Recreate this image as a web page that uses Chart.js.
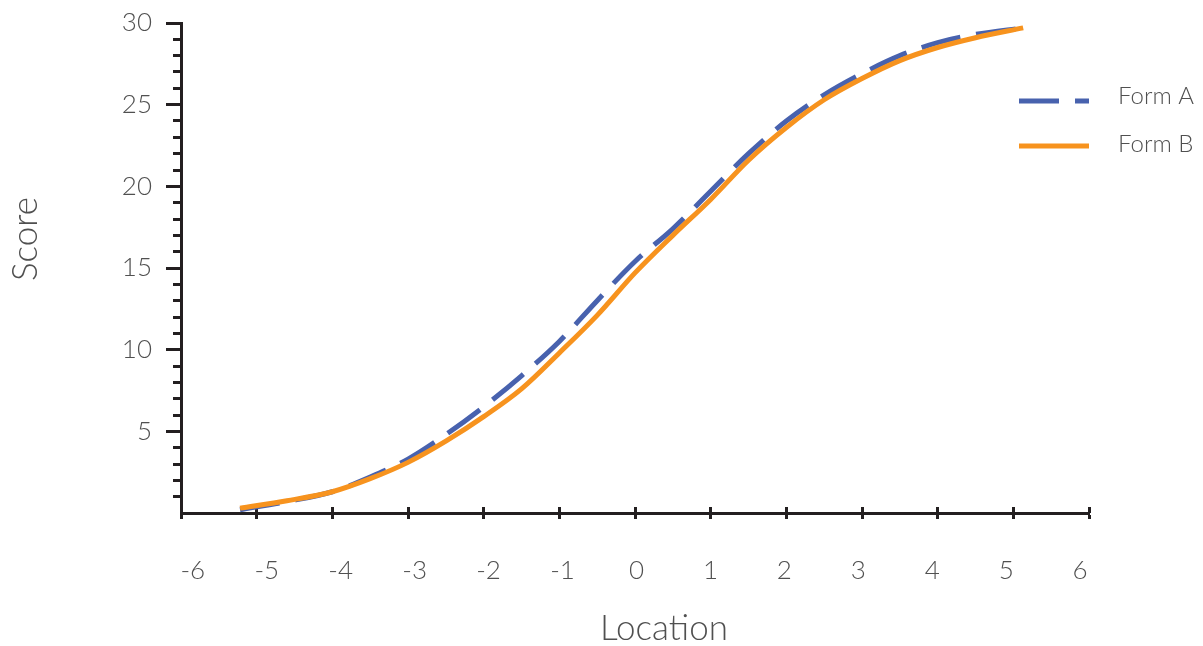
<!DOCTYPE html>
<html>
<head>
<meta charset="utf-8">
<script src="https://cdn.jsdelivr.net/npm/chart.js@4.4.1/dist/chart.umd.min.js"></script>
<style>
  html, body { margin: 0; padding: 0; background: #fff; }
  #wrap { width: 1203px; height: 646px; position: relative; }
</style>
</head>
<body>
<div id="wrap"><canvas id="score-chart"></canvas></div>
<script>
"use strict";

// values (location -> expected score)
const locations = [-5.22, -4.6, -4, -3.5, -3, -2.5, -2, -1.5, -1, -0.5, 0, 0.5, 1, 1.5, 2, 2.5, 3, 3.5, 4, 4.5, 5.13];
const formA = [0.2, 0.7, 1.3, 2.2, 3.3, 4.8, 6.5, 8.4, 10.5, 13.0, 15.4, 17.4, 19.7, 22.0, 24.0, 25.6, 26.9, 28.0, 28.8, 29.3, 29.7];
const formB = [0.3, 0.75, 1.3, 2.1, 3.1, 4.4, 5.9, 7.6, 9.8, 12.1, 14.7, 17.0, 19.2, 21.6, 23.6, 25.3, 26.6, 27.7, 28.5, 29.1, 29.7];

const xTickLabels = [-6, -5, -4, -3, -2, -1, 0, 1, 2, 3, 4, 5, 6];
const yTickLabels = [5, 10, 15, 20, 25, 30];
const yMinorTicks = [1, 2, 3, 4, 6, 7, 8, 9, 11, 12, 13, 14, 16, 17, 18, 19, 21, 22, 23, 24, 26, 27, 28, 29];

const xTitle = "Location";
const yTitle = "Score";

const FONT = "Lato, 'Open Sans', sans-serif";
const TEXT = "#505050";
const AXIS = "#231f20";

function toPoints(xs, ys) {
  return xs.map((x, i) => ({ x: x, y: ys[i] }));
}

// legend sits to the right, partly outside the plot area
const sideLegend = {
  id: "sideLegend",
  afterDraw(chart) {
    const ctx = chart.ctx;
    chart.data.datasets.forEach((ds, i) => {
      const y = 101 + i * 45;
      ctx.save();
      ctx.strokeStyle = ds.borderColor;
      ctx.lineWidth = ds.borderWidth;
      ctx.setLineDash(ds.borderDash || []);
      ctx.beginPath();
      ctx.moveTo(1019, y);
      ctx.lineTo(1089, y);
      ctx.stroke();
      ctx.setLineDash([]);
      ctx.fillStyle = TEXT;
      ctx.font = "300 24px " + FONT;
      ctx.textBaseline = "alphabetic";
      ctx.fillText(ds.label, 1118, y + 3 + i * 3);
      ctx.restore();
    });
  }
};

// axis titles are not centred on the plot in the original, so place them here
const axisTitles = {
  id: "axisTitles",
  afterDraw(chart) {
    const ctx = chart.ctx;
    ctx.save();
    ctx.fillStyle = TEXT;
    ctx.font = "300 35px " + FONT;
    ctx.textAlign = "center";
    ctx.textBaseline = "middle";
    ctx.fillText(xTitle, 664, 629);
    ctx.translate(26, 239);
    ctx.rotate(-Math.PI / 2);
    ctx.fillText(yTitle, 0, 0);
    ctx.restore();
  }
};

const ctx = document.getElementById("score-chart").getContext("2d");
const scoreChart = new Chart(ctx, {
  type: "scatter",
  data: {
    datasets: [
      {
        label: "Form A",
        data: toPoints(locations, formA),
        showLine: true,
        borderColor: "#4862ae",
        borderWidth: 5,
        borderDash: [40, 16],
        borderCapStyle: "butt",
        pointRadius: 0,
        cubicInterpolationMode: "monotone",
        order: 1,
      },
      {
        label: "Form B",
        data: toPoints(locations, formB),
        showLine: true,
        borderColor: "#f7931e",
        borderWidth: 5,
        pointRadius: 0,
        cubicInterpolationMode: "monotone",
        order: 0,
      },
    ],
  },
  options: {
    responsive: true,
    maintainAspectRatio: false,
    animation: false,
    layout: { padding: { top: 23, right: 114, left: 0, bottom: 0 } },
    plugins: { legend: { display: false }, tooltip: { enabled: false } },
    scales: {
      x: {
        type: "linear",
        position: "bottom",
        weight: 0,
        min: -6,
        max: 6,
        ticks: { display: false, stepSize: 1 },
        grid: { drawOnChartArea: false, tickLength: 6, tickWidth: 3, tickColor: AXIS },
        border: { display: true, width: 3, color: AXIS },
        afterFit: (s) => { s.height = 0; },
      },
      xUp: {
        type: "linear",
        position: "bottom",
        weight: 1,
        min: -6,
        max: 6,
        ticks: { display: false, stepSize: 1 },
        grid: { drawOnChartArea: false, tickLength: -6, tickWidth: 3, tickColor: AXIS },
        border: { display: false },
        afterFit: (s) => { s.height = 0; },
      },
      xLab: {
        type: "linear",
        position: "bottom",
        weight: 2,
        min: -6.16,
        max: 6.12,
        afterBuildTicks: (s) => { s.ticks = xTickLabels.map((v) => ({ value: v })); },
        ticks: {
          autoSkip: false,
          maxRotation: 0,
          padding: 42,
          color: TEXT,
          font: { family: FONT, size: 26, weight: "300" },
          callback: (v) => String(v),
        },
        grid: { display: false, drawTicks: false },
        border: { display: false },
        afterFit: (s) => { s.height = 133; s.paddingLeft = 0; s.paddingRight = 0; },
      },
      y: {
        type: "linear",
        position: "left",
        weight: 1,
        min: 0,
        max: 30,
        afterBuildTicks: (s) => { s.ticks = yTickLabels.map((v) => ({ value: v })); },
        ticks: {
          padding: 14,
          color: TEXT,
          font: { family: FONT, size: 26, weight: "300" },
          callback: (v) => String(v),
        },
        grid: { drawOnChartArea: false, tickLength: 15, tickWidth: 3, tickColor: AXIS },
        border: { display: true, width: 3, color: AXIS },
        afterFit: (s) => { s.width = 181; s.paddingTop = 0; s.paddingBottom = 0; },
      },
      yMinor: {
        type: "linear",
        position: "left",
        weight: 0,
        min: 0,
        max: 30,
        afterBuildTicks: (s) => { s.ticks = yMinorTicks.map((v) => ({ value: v })); },
        ticks: { display: false },
        grid: { drawOnChartArea: false, tickLength: 8, tickWidth: 3, tickColor: AXIS },
        border: { display: false },
        afterFit: (s) => { s.width = 0; s.paddingTop = 0; s.paddingBottom = 0; },
      },
    },
  },
  plugins: [sideLegend, axisTitles],
});
</script>
</body>
</html>
